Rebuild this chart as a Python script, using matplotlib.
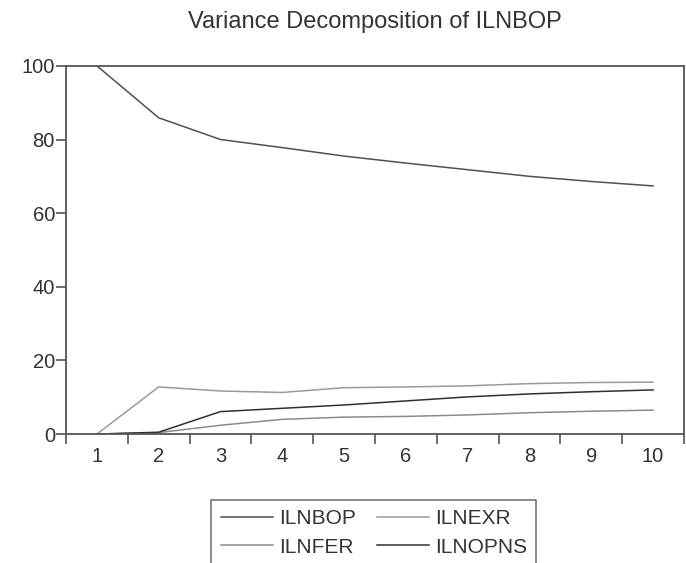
import numpy as np
import matplotlib.pyplot as plt

plt.rcParams['font.family'] = ['Liberation Sans', 'DejaVu Sans']

periods = [1, 2, 3, 4, 5, 6, 7, 8, 9, 10]
ilnbop = [100.0, 85.9, 80.0, 77.8, 75.5, 73.6, 71.8, 70.0, 68.6, 67.4]
ilnexr = [0.0, 12.8, 11.7, 11.3, 12.6, 12.8, 13.1, 13.7, 14.0, 14.1]
ilnfer = [0.0, 0.4, 2.4, 4.0, 4.6, 4.8, 5.2, 5.8, 6.2, 6.5]
ilnopns = [0.0, 0.5, 6.1, 7.0, 7.9, 9.0, 10.1, 10.9, 11.5, 12.0]

series = ['ILNBOP', 'ILNEXR', 'ILNFER', 'ILNOPNS']
colors = ['#505050', '#9a9a9a', '#8a8a8a', '#303030']

fig = plt.figure(figsize=(6.86, 5.63), dpi=100)
ax = fig.add_axes([0.0962, 0.229, 0.9008, 0.654])

lines = {}
for vals, name, c in zip([ilnbop, ilnexr, ilnfer, ilnopns], series, colors):
    lines[name], = ax.plot(periods, vals, color=c, lw=1.1, label=name)

ax.set_xlim(0.5, 10.5)
ax.set_ylim(0, 100)
ax.set_yticks([0, 20, 40, 60, 80, 100])
# ticks between periods, labels on the periods (EViews style)
ax.set_xticks(np.arange(0.5, 11, 1))
ax.set_xticklabels([])
ax.set_xticks(periods, minor=True)
ax.set_xticklabels([str(p) for p in periods], minor=True)
ax.tick_params(axis='x', which='minor', length=0, pad=9, labelsize=14.5, labelcolor='#333333')
ax.tick_params(axis='x', which='major', length=7, width=1.2, color='#555555', direction='out')
ax.tick_params(axis='y', length=7, width=1.2, color='#555555', direction='out',
               labelsize=14.5, labelcolor='#333333', pad=1)
for s in ax.spines.values():
    s.set_color('#555555')
    s.set_linewidth(1.3)

ax.set_title('Variance Decomposition of ILNBOP', fontsize=17, color='#333333', pad=27)

# row-major order like the original: BOP EXR / FER OPNS
order = ['ILNBOP', 'ILNFER', 'ILNEXR', 'ILNOPNS']
leg = fig.legend([lines[n] for n in order], order, loc='upper center',
                 bbox_to_anchor=(0.545, 0.112), borderaxespad=0, ncol=2,
                 fontsize=15, frameon=True, fancybox=False, handlelength=2.5,
                 columnspacing=1.0, handletextpad=0.3, labelspacing=0.45,
                 borderpad=0.45)
leg.get_frame().set_edgecolor('#555555')
leg.get_frame().set_linewidth(1.2)
for t in leg.get_texts():
    t.set_color('#333333')

fig.savefig('out.png', dpi=100)
